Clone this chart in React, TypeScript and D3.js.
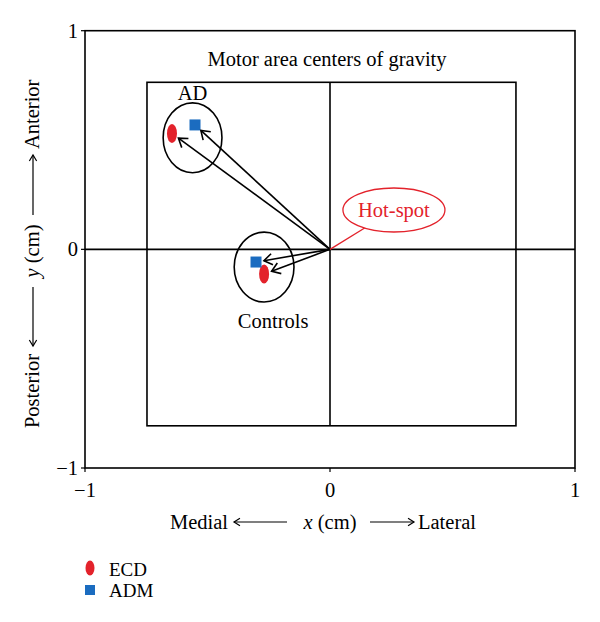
import React from "react";
import * as d3 from "d3";

// ---- data ----
const xTicks = [-1, 0, 1];
const yTicks = [-1, 0, 1];
const groups = ["AD", "Controls"];
const ecdX = [-0.645, -0.269];
const ecdY = [0.53, -0.113];
const admX = [-0.551, -0.302];
const admY = [0.569, -0.058];
const groupCx = [-0.561, -0.269];
const groupCy = [0.51, -0.081];
const groupRx = [0.12, 0.122];
const groupRy = [0.16, 0.16];
const boxX = [-0.747, 0.759];
const boxY = [-0.807, 0.764];
const hotSpot = [0, 0];
const hotLabelPos = [0.261, 0.18];
const legendItems = ["ECD", "ADM"];
const title = "Motor area centers of gravity";

const RED = "#e3222b";
const BLUE = "#1b6cc0";
const FONT = "'Liberation Serif', 'DejaVu Serif', serif";
const FS = 20.5;

export default function App() {
  const W = 600, H = 622;
  const x = d3.scaleLinear().domain([-1, 1]).range([85, 575]);
  const y = d3.scaleLinear().domain([-1, 1]).range([468, 30.7]);

  const arrowHead = (x1: number, y1: number, x2: number, y2: number, len = 9, ang = 0.5) => {
    const a = Math.atan2(y2 - y1, x2 - x1);
    const p1 = [x2 - len * Math.cos(a - ang), y2 - len * Math.sin(a - ang)];
    const p2 = [x2 - len * Math.cos(a + ang), y2 - len * Math.sin(a + ang)];
    return `M${p1[0]},${p1[1]}L${x2},${y2}L${p2[0]},${p2[1]}`;
  };

  const ox = x(hotSpot[0]), oy = y(hotSpot[1]);
  const shorten = (tx: number, ty: number, d: number) => {
    const dx = tx - ox, dy = ty - oy;
    const L = Math.hypot(dx, dy);
    return [tx - (dx / L) * d, ty - (dy / L) * d];
  };

  const arrows: { x2: number; y2: number }[] = [];
  groups.forEach((_, i) => {
    const [ax, ay] = shorten(x(ecdX[i]), y(ecdY[i]), 8);
    arrows.push({ x2: ax, y2: ay });
    const [bx, by] = shorten(x(admX[i]), y(admY[i]), 8);
    arrows.push({ x2: bx, y2: by });
  });

  const hx = x(hotLabelPos[0]), hy = y(hotLabelPos[1]);
  const hrx = 51, hry = 22;
  const la = Math.atan2(oy - hy, ox - hx);
  const t = Math.atan2(Math.sin(la) / hry, Math.cos(la) / hrx);
  const lex = hx + hrx * Math.cos(t), ley = hy + hry * Math.sin(t);

  const sw = 1.6;

  const hArrow = (x1: number, x2: number, yy: number) => (
    <g>
      <line x1={x1} x2={x2} y1={yy} y2={yy} stroke="#000" strokeWidth={1.2} />
      <path d={arrowHead(x1, yy, x2, yy, 7, 0.55)} fill="none" stroke="#000" strokeWidth={1.2} />
    </g>
  );

  const fmt = (v: number) => (v < 0 ? "\u2212" + Math.abs(v) : String(v));

  return (
    <svg width={W} height={H} style={{ position: "absolute", left: 0, top: 0, background: "#fff" }} fontFamily={FONT}>
      <rect x={x(-1)} y={y(1)} width={x(1) - x(-1)} height={y(-1) - y(1)} fill="none" stroke="#000" strokeWidth={sw} />
      <rect x={x(boxX[0])} y={y(boxY[1])} width={x(boxX[1]) - x(boxX[0])} height={y(boxY[0]) - y(boxY[1])} fill="none" stroke="#000" strokeWidth={sw} />
      <line x1={x(0)} x2={x(0)} y1={y(boxY[1])} y2={y(boxY[0])} stroke="#000" strokeWidth={sw} />
      <line x1={x(-1)} x2={x(1)} y1={y(0)} y2={y(0)} stroke="#000" strokeWidth={sw} />

      {xTicks.map((v) => (
        <g key={"xt" + v}>
          <line x1={x(v)} x2={x(v)} y1={y(-1)} y2={y(-1) + 4} stroke="#000" strokeWidth={1.2} />
          <text x={x(v)} y={y(-1) + 29} textAnchor="middle" fontSize={FS}>{fmt(v)}</text>
        </g>
      ))}
      {yTicks.map((v) => (
        <g key={"yt" + v}>
          <line x1={x(-1) - 4} x2={x(-1)} y1={y(v)} y2={y(v)} stroke="#000" strokeWidth={1.2} />
          <text x={x(-1) - 7} y={y(v) + 7} textAnchor="end" fontSize={FS}>{fmt(v)}</text>
        </g>
      ))}

      <text x={327} y={66} textAnchor="middle" fontSize={FS}>{title}</text>

      {groups.map((g, i) => (
        <ellipse key={g} cx={x(groupCx[i])} cy={y(groupCy[i])}
          rx={x(groupRx[i]) - x(0)} ry={y(0) - y(groupRy[i])} fill="none" stroke="#000" strokeWidth={sw} />
      ))}
      <text x={x(groupCx[0])} y={y(groupCy[0] + groupRy[0]) - 3} textAnchor="middle" fontSize={FS}>{groups[0]}</text>
      <text x={x(groupCx[1]) + 9} y={y(groupCy[1] - groupRy[1]) + 26} textAnchor="middle" fontSize={FS}>{groups[1]}</text>

      {groups.map((g, i) => (
        <g key={"m" + g}>
          <ellipse cx={x(ecdX[i])} cy={y(ecdY[i])} rx={5} ry={9.5} fill={RED} />
          <rect x={x(admX[i]) - 5.5} y={y(admY[i]) - 5.5} width={11} height={11} fill={BLUE} />
        </g>
      ))}

      {arrows.map((a, i) => (
        <g key={"a" + i}>
          <line x1={ox} y1={oy} x2={a.x2} y2={a.y2} stroke="#000" strokeWidth={sw} />
          <path d={arrowHead(ox, oy, a.x2, a.y2, 10, 0.6)} fill="none" stroke="#000" strokeWidth={sw} />
        </g>
      ))}

      <line x1={ox} y1={oy} x2={lex} y2={ley} stroke={RED} strokeWidth={1.3} />
      <ellipse cx={hx} cy={hy} rx={hrx} ry={hry} fill="#fff" stroke={RED} strokeWidth={1.3} />
      <text x={hx} y={hy + 7} textAnchor="middle" fontSize={FS} fill={RED}>Hot-spot</text>

      <g fontSize={FS}>
        <text x={228} y={529} textAnchor="end">Medial</text>
        {hArrow(287, 234, 522)}
        <text x={330} y={529} textAnchor="middle"><tspan fontStyle="italic">x</tspan> (cm)</text>
        {hArrow(370, 414, 522)}
        <text x={418} y={529} textAnchor="start">Lateral</text>
      </g>

      <g transform={`translate(39,251) rotate(-90)`} fontSize={FS}>
        <text x={-103} y={0} textAnchor="end">Posterior</text>
        {hArrow(-36, -95, -6)}
        <text x={0} y={0} textAnchor="middle"><tspan fontStyle="italic">y</tspan> (cm)</text>
        {hArrow(36, 96, -6)}
        <text x={102} y={0} textAnchor="start">Anterior</text>
      </g>

      {legendItems.map((l, i) => (
        <g key={l}>
          {i === 0 ? (
            <ellipse cx={90} cy={568} rx={4.5} ry={7.5} fill={RED} />
          ) : (
            <rect x={85} y={585} width={10} height={10} fill={BLUE} />
          )}
          <text x={109} y={576 + i * 21} fontSize={19}>{l}</text>
        </g>
      ))}
    </svg>
  );
}
